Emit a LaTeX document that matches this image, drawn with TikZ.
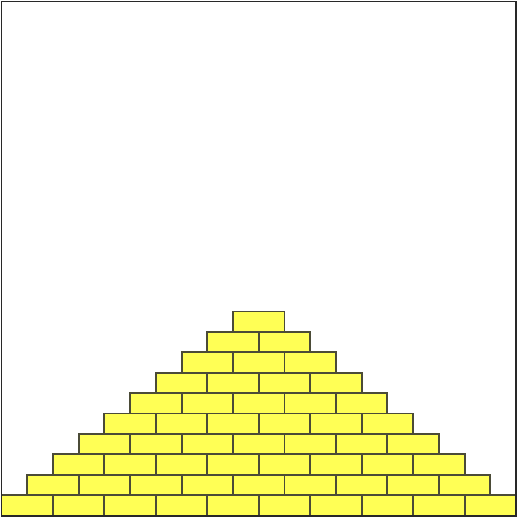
\documentclass[tikz,border=0pt]{standalone}
\definecolor{brickfill}{RGB}{255,255,85}
\definecolor{brickline}{RGB}{75,75,55}
\definecolor{framecol}{RGB}{40,40,40}
\begin{document}
\begin{tikzpicture}[x=1pt,y=-1pt,
  brickfillstyle/.style={fill=brickfill},
  brickdraw/.style={draw=brickline,line width=1.9pt},
  frame/.style={draw=framecol,line width=1.3pt}]
\useasboundingbox (0,0) rectangle (521,523);
\pgfmathsetmacro{\bw}{51.45}
\pgfmathsetmacro{\bh}{20.4}
\foreach \r in {0,...,9}{
  \pgfmathtruncatemacro{\n}{9-\r}
  \foreach \i in {0,...,\n}{
    \pgfmathsetmacro{\xa}{1.5+\r*\bw/2+\i*\bw}
    \pgfmathsetmacro{\yb}{515.5-\r*\bh}
    \path[brickfillstyle] (\xa,\yb) rectangle ++(\bw,-\bh);
  }
}
\foreach \r in {0,...,9}{
  \pgfmathtruncatemacro{\n}{9-\r}
  \foreach \i in {0,...,\n}{
    \pgfmathsetmacro{\xa}{1.5+\r*\bw/2+\i*\bw}
    \pgfmathsetmacro{\yb}{515.5-\r*\bh}
    \path[brickdraw] (\xa,\yb) rectangle ++(\bw,-\bh);
  }
}
\path[frame] (1.5,1.5) rectangle (516,516);
\end{tikzpicture}
\end{document}
